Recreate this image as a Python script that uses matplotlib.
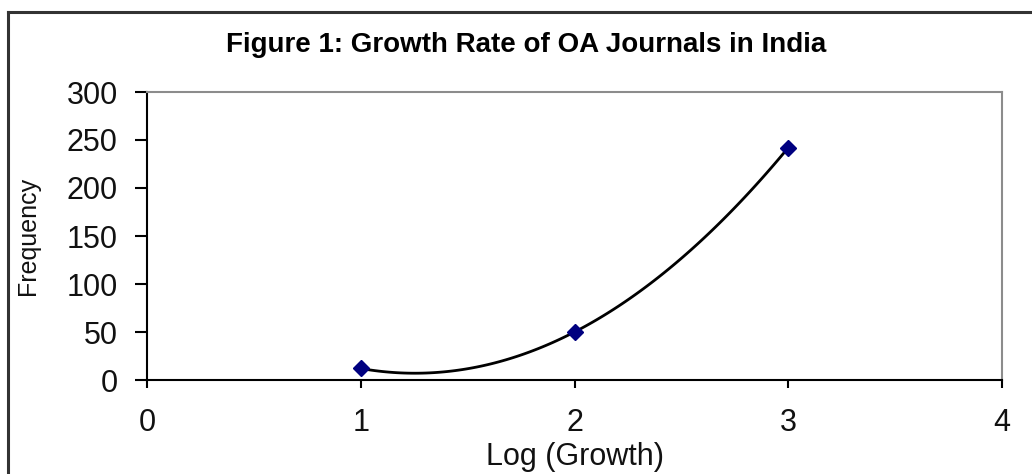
import numpy as np
import matplotlib
matplotlib.use('Agg')
import matplotlib.pyplot as plt
from matplotlib.lines import Line2D

# data
log_growth = [1, 2, 3]
frequency = [12, 50, 242]
x_ticks = [0, 1, 2, 3, 4]
y_ticks = [0, 50, 100, 150, 200, 250, 300]

TITLE = "Figure 1: Growth Rate of OA Journals in India"
X_LABEL = "Log (Growth)"
Y_LABEL = "Frequency"

plt.rcParams['font.family'] = ['Liberation Sans', 'DejaVu Sans']


def smooth_curve(xs, ys, n=60):
    """Excel-like smoothed line: Catmull-Rom through the points,
    end tangents taken from a quadratic extrapolation."""
    xs = np.asarray(xs, float)
    ys = np.asarray(ys, float)
    coef = np.polyfit(xs, ys, 2)
    x_ext = np.concatenate([[2 * xs[0] - xs[1]], xs, [2 * xs[-1] - xs[-2]]])
    y_ext = np.concatenate([[np.polyval(coef, x_ext[0])], ys, [np.polyval(coef, x_ext[-1])]])
    px, py = [], []
    t = np.linspace(0, 1, n)
    for i in range(1, len(x_ext) - 2):
        p0 = np.array([x_ext[i], y_ext[i]])
        p1 = np.array([x_ext[i + 1], y_ext[i + 1]])
        m0 = (p1 - np.array([x_ext[i - 1], y_ext[i - 1]])) / 2
        m1 = (np.array([x_ext[i + 2], y_ext[i + 2]]) - p0) / 2
        c0 = p0 + m0 / 3
        c1 = p1 - m1 / 3
        b = (np.outer((1 - t) ** 3, p0) + np.outer(3 * (1 - t) ** 2 * t, c0)
             + np.outer(3 * (1 - t) * t ** 2, c1) + np.outer(t ** 3, p1))
        px.extend(b[:, 0])
        py.extend(b[:, 1])
    return np.array(px), np.array(py)


fig = plt.figure(figsize=(10.32, 4.74), dpi=100)
ax = fig.add_axes([147 / 1032, 1 - 380 / 474, 855 / 1032, 288 / 474])

sx, sy = smooth_curve(log_growth, frequency)
ax.plot(sx, sy, color='black', linewidth=2.0, zorder=3, clip_on=False)
ax.plot(log_growth, frequency, linestyle='none', marker='D', markersize=8,
        color='#000080', markeredgecolor='#000080', zorder=4, clip_on=False)

ax.set_xlim(0, 4)
ax.set_ylim(0, 300)
ax.set_xticks(x_ticks)
ax.set_yticks(y_ticks)
ax.tick_params(axis='y', direction='out', length=9, width=1.5, pad=12, labelsize=22)
ax.tick_params(axis='x', direction='out', length=6, width=1.5, pad=14, labelsize=22)
for lab in ax.get_xticklabels() + ax.get_yticklabels():
    lab.set_color('#111111')

ax.spines['left'].set_color('black')
ax.spines['bottom'].set_color('black')
ax.spines['top'].set_color('#8c8c8c')
ax.spines['right'].set_color('#8c8c8c')
for side in ['left', 'bottom', 'top', 'right']:
    ax.spines[side].set_linewidth(1.5)

ax.set_xlabel(X_LABEL, fontsize=22, color='#111111')
ax.set_ylabel(Y_LABEL, fontsize=18, color='#111111')
ax.yaxis.set_label_coords((28 - 147) / 855, 0.5)
ax.xaxis.set_label_coords(0.5, (380 - 457) / 288)
ax.xaxis.label.set_va('center')
ax.yaxis.label.set_va('center')

fig.text(526 / 1032, 1 - 45 / 474, TITLE, ha='center', va='center',
         fontsize=20, fontweight='bold')

# outer chart frame (cut off on right and bottom)
fig.add_artist(Line2D([8 / 1032, 1.0], [1 - 12 / 474, 1 - 12 / 474],
                      transform=fig.transFigure, color='#333333', linewidth=2.2))
fig.add_artist(Line2D([8 / 1032, 8 / 1032], [0.0, 1 - 12 / 474],
                      transform=fig.transFigure, color='#333333', linewidth=2.2))

fig.savefig('out.png', dpi=100)
